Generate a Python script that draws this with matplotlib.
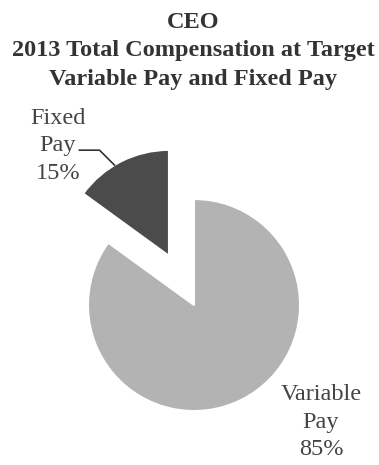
import numpy as np
import matplotlib.pyplot as plt

# CEO pay mix at target
labels = ["Fixed\nPay", "Variable\nPay"]
shares = [15, 85]
colors = ["#4b4b4b", "#b3b3b3"]
explode = [0.52, 0.0]

plt.rcParams["font.family"] = ["Liberation Serif", "DejaVu Serif"]

fig = plt.figure(figsize=(3.79, 4.65), dpi=100)
ax = fig.add_axes([0, 0, 1, 1])

wedges, _ = ax.pie(
    shares, colors=colors, explode=explode, startangle=90,
    counterclock=True, radius=1.0,
    wedgeprops=dict(edgecolor="white", linewidth=1.5),
)

ax.set_xlim(-1.83, 1.745)
ax.set_ylim(-1.509, 2.877)
ax.set_aspect("equal")
ax.axis("off")

# Title
title_lines = ["CEO", "2013 Total Compensation at Target",
               "Variable Pay and Fixed Pay"]
for i, line in enumerate(title_lines):
    fig.text(0.51, 0.951 - i * 0.0605, line, ha="center", va="center",
             fontsize=17.5, fontweight="bold", color="#333333")

# Fixed pay label with a leader line to the exploded wedge
w = wedges[0]
cx, cy = w.center
a = np.deg2rad(121)
tip = (cx + w.r * np.cos(a), cy + w.r * np.sin(a))
elbow = (tip[0] - 0.14, tip[1] + 0.14)
start = (elbow[0] - 0.19, elbow[1])
ax.plot([start[0], elbow[0], tip[0]], [start[1], elbow[1], tip[1]],
        color="#333333", linewidth=1.2)
ax.text(-1.283, 1.50, f"{labels[0]}\n{shares[0]}%", ha="center", va="center",
        fontsize=17.5, color="#444444", linespacing=1.38)

ax.text(1.198, -1.104, f"{labels[1]}\n{shares[1]}%", ha="center", va="center",
        fontsize=17.5, color="#444444", linespacing=1.38)

fig.savefig("out.png", dpi=100, facecolor="white")
